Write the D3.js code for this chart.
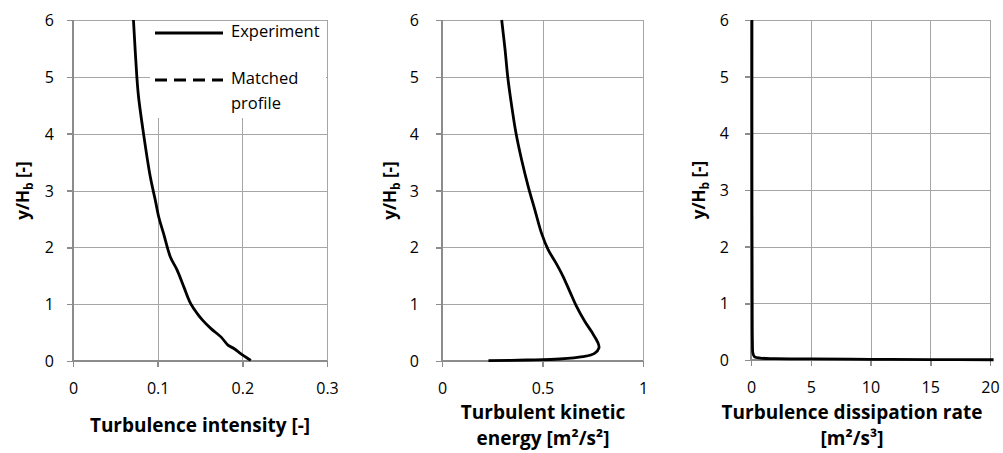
<!DOCTYPE html>
<meta charset="utf-8">
<style>
body { margin: 0; background: #fff; }
svg { font-family: "Open Sans", sans-serif; }
.grid line { stroke: #a6a6a6; stroke-width: 1px; shape-rendering: crispEdges; }
.axis path, .axis line { stroke: #8c8c8c; stroke-width: 1.5px; shape-rendering: crispEdges; }
.axis text { font-family: "Open Sans", sans-serif; font-size: 16px; fill: #000; }
.title { font-size: 19px; font-weight: bold; fill: #000; }
.ytitle { font-size: 17px; font-weight: bold; fill: #000; }
.curve { fill: none; stroke: #000; stroke-width: 2.8px; stroke-linejoin: round; }
</style>
<body>
<svg width="1003" height="453"></svg>
<script src="https://cdn.jsdelivr.net/npm/d3@7"></script>
<script>

// Turbulence intensity [-] vs y/Hb
let tiX = [0.0714, 0.0754, 0.0774, 0.0833, 0.0913, 0.0972, 0.1015, 0.107, 0.115, 0.123, 0.131, 0.139, 0.147, 0.153, 0.163, 0.175, 0.183, 0.190, 0.198, 0.210];
let tiY = [6, 5, 4.65, 4.0, 3.24, 2.83, 2.52, 2.24, 1.83, 1.60, 1.30, 1.01, 0.83, 0.72, 0.57, 0.42, 0.28, 0.22, 0.13, 0.01];

// Turbulent kinetic energy [m2/s2]
let tkeX = [0.297, 0.314, 0.327, 0.347, 0.368, 0.396, 0.429, 0.462, 0.495, 0.528, 0.566, 0.602, 0.635, 0.668, 0.710, 0.747, 0.776, 0.781, 0.759, 0.701, 0.586, 0.421, 0.231];
let tkeY = [6, 5.47, 5.0, 4.48, 4.01, 3.54, 3.07, 2.66, 2.25, 1.96, 1.73, 1.49, 1.23, 0.97, 0.70, 0.50, 0.32, 0.23, 0.135, 0.076, 0.035, 0.018, 0.006];

// Turbulence dissipation rate [m2/s3]
let epsX = [0.08, 0.08, 0.1, 0.12, 0.16, 0.3, 0.8, 2, 5, 10, 15, 20.3];
let epsY = [6, 3, 1, 0.3, 0.12, 0.055, 0.033, 0.024, 0.019, 0.012, 0.008, 0.004];

let yTicks = [0, 1, 2, 3, 4, 5, 6];
let tiTicks = [0, 0.1, 0.2, 0.3];
let tkeTicks = [0, 0.5, 1];
let epsTicks = [0, 5, 10, 15, 20];

let legendLabels = [["Experiment"], ["Matched", "profile"]];

let svg = d3.select("svg");

let panels = [
  { xs: tiX, ys: tiY, ticks: tiTicks, left: 73, right: 327, top: 20, bottom: 361,
    ylx: 54, ytx: 23, xly: 390, title: ["Turbulence intensity [-]"], titleY: 427, titleX: 200, legend: true },
  { xs: tkeX, ys: tkeY, ticks: tkeTicks, left: 442, right: 643, top: 20, bottom: 361,
    ylx: 419, ytx: 390, xly: 390, title: ["Turbulent kinetic", "energy [m²/s²]"], titleY: 414, titleX: 543 },
  { xs: epsX, ys: epsY, ticks: epsTicks, left: 751, right: 990, top: 20, bottom: 360,
    ylx: 729, ytx: 699, xly: 389, title: ["Turbulence dissipation rate", "[m²/s³]"], titleY: 414, titleX: 852 }
];

panels.forEach(function(p) {
  let x = d3.scaleLinear()
    .domain([p.ticks[0], p.ticks[p.ticks.length - 1]])
    .range([p.left, p.right]);
  let y = d3.scaleLinear().domain([0, 6]).range([p.bottom, p.top]);

  let g = svg.append("g");

  // gridlines
  let grid = g.append("g").attr("class", "grid");
  grid.selectAll(".v")
    .data(p.ticks.slice(1))
    .enter().append("line")
    .attr("x1", d => Math.round(x(d)) + 0.5).attr("x2", d => Math.round(x(d)) + 0.5)
    .attr("y1", p.top).attr("y2", p.bottom);
  grid.selectAll(".h")
    .data(yTicks.slice(1))
    .enter().append("line")
    .attr("x1", p.left).attr("x2", p.right)
    .attr("y1", d => Math.round(y(d)) + 0.5).attr("y2", d => Math.round(y(d)) + 0.5);

  // axes
  let xAxis = d3.axisBottom(x).tickValues(p.ticks).tickSize(6)
    .tickFormat(d3.format("~g"));
  let ax = g.append("g").attr("class", "axis")
    .attr("transform", "translate(0," + p.bottom + ")")
    .call(xAxis);
  ax.select(".domain").attr("d", "M" + p.left + ",0H" + p.right);
  ax.selectAll("text").attr("dy", null).attr("y", p.xly - p.bottom)
    .attr("dominant-baseline", "middle");

  let yAxis = d3.axisLeft(y).tickValues(yTicks).tickSize(6).tickFormat(d3.format("d"));
  let ay = g.append("g").attr("class", "axis")
    .attr("transform", "translate(" + p.left + ",0)")
    .call(yAxis);
  ay.select(".domain").attr("d", "M0," + p.top + "V" + p.bottom);
  ay.selectAll("text").attr("x", p.ylx - p.left).attr("dy", "0.35em");

  // y title
  let yt = g.append("text").attr("class", "ytitle")
    .attr("transform", "translate(" + p.ytx + "," + ((p.top + p.bottom) / 2) + ") rotate(-90)")
    .attr("text-anchor", "middle").attr("dy", "0.35em");
  yt.append("tspan").text("y/H");
  yt.append("tspan").attr("font-size", "12px").attr("dy", "4").text("b");
  yt.append("tspan").attr("dy", "-4").text(" [-]");

  // x title
  g.selectAll(".xt")
    .data(p.title)
    .enter().append("text").attr("class", "title")
    .attr("x", p.titleX)
    .attr("y", (d, i) => p.titleY + i * 26)
    .attr("text-anchor", "middle").attr("dominant-baseline", "middle")
    .text(d => d);

  if (p.legend) {
    let lg = g.append("g");
    lg.append("rect").attr("x", 150).attr("y", p.top + 1).attr("width", p.right - 151).attr("height", 97)
      .attr("fill", "#fff");
    lg.append("line").attr("x1", 155).attr("x2", 223).attr("y1", 33).attr("y2", 33)
      .attr("stroke", "#000").attr("stroke-width", 2.8);
    lg.append("line").attr("x1", 155).attr("x2", 223).attr("y1", 80).attr("y2", 80)
      .attr("stroke", "#000").attr("stroke-width", 2.8).attr("stroke-dasharray", "12,7");
    let rows = [[legendLabels[0][0], 33], [legendLabels[1][0], 80], [legendLabels[1][1], 105]];
    lg.selectAll("text").data(rows).enter().append("text")
      .attr("x", 231).attr("y", d => d[1]).attr("dominant-baseline", "middle")
      .attr("font-size", "16.5px").text(d => d[0]);
  }

  let line = d3.line().x(d => x(d[0])).y(d => y(d[1])).curve(d3.curveCatmullRom.alpha(0.5));
  g.append("path").attr("class", "curve")
    .datum(d3.zip(p.xs, p.ys))
    .attr("d", line);
});
</script>
</body>
